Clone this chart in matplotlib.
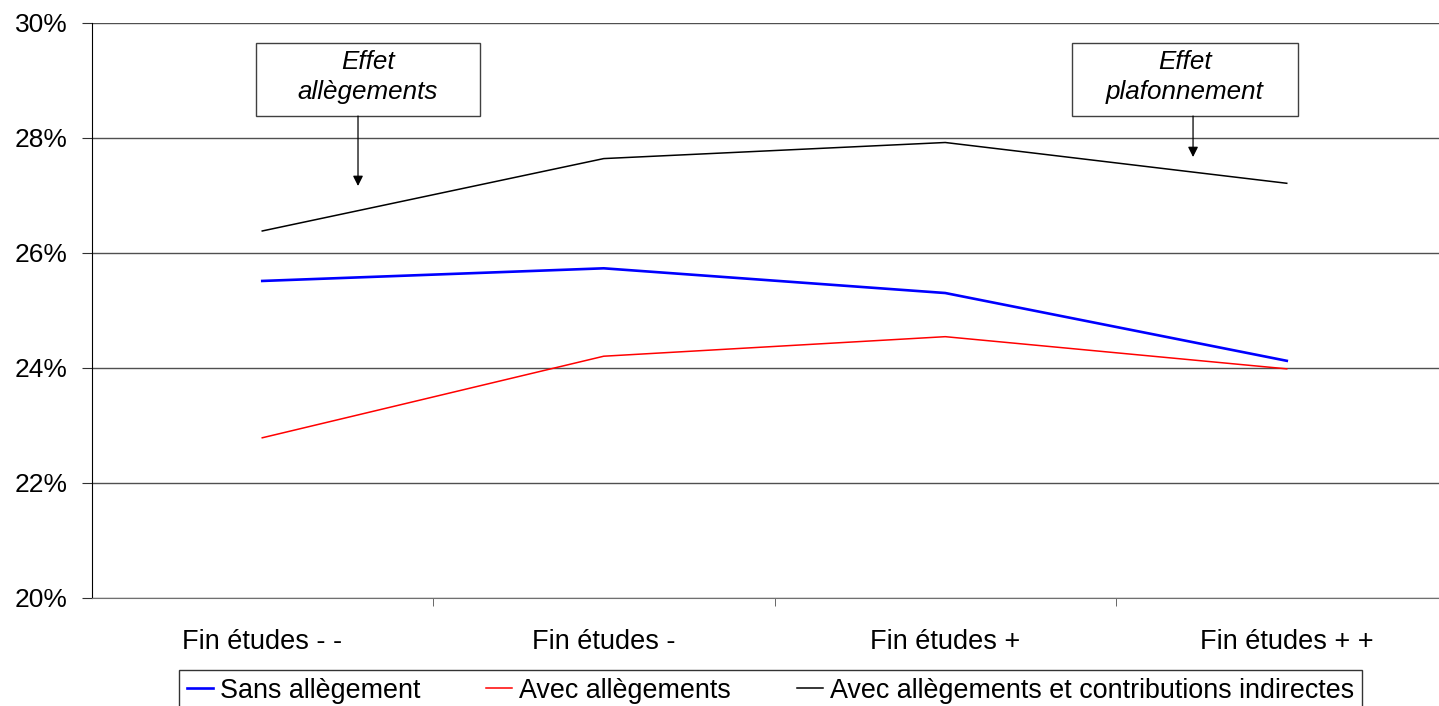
import matplotlib
matplotlib.use("Agg")
import matplotlib.pyplot as plt
from matplotlib.patches import Rectangle

plt.rcParams['font.family'] = ['Liberation Sans', 'DejaVu Sans']

categories = ["Fin études - -", "Fin études -", "Fin études +", "Fin études + +"]
sans_allegement = [25.51, 25.73, 25.30, 24.12]
avec_allegements = [22.78, 24.20, 24.54, 23.98]
avec_contributions = [26.38, 27.64, 27.92, 27.21]
y_ticks = [20, 22, 24, 26, 28, 30]
y_labels = ["20%", "22%", "24%", "26%", "28%", "30%"]

W, H = 1439, 706
fig = plt.figure(figsize=(W / 100, H / 100), dpi=100)
left, right, top, bottom = 91.5, 1457.5, 23, 597.5
ax = fig.add_axes([left / W, 1 - bottom / H, (right - left) / W, (bottom - top) / H])

x = range(len(categories))
ax.plot(x, sans_allegement, color="#0000ff", lw=1.9, label="Sans allègement")
ax.plot(x, avec_allegements, color="#ff0000", lw=1.1, label="Avec allègements")
ax.plot(x, avec_contributions, color="#000000", lw=1.1,
        label="Avec allègements et contributions indirectes")

ax.set_xlim(-0.5, len(categories) - 0.5)
ax.set_ylim(20, 30)
ax.set_yticks(y_ticks)
ax.set_yticklabels(y_labels, fontsize=19)
ax.yaxis.grid(True, color="#505050", lw=1.0)
ax.set_axisbelow(True)

ax.set_xticks(list(x))
ax.set_xticklabels(categories, fontsize=19.5)
ax.set_xticks([i + 0.5 for i in range(len(categories))], minor=True)
ax.tick_params(axis="x", which="major", length=0, pad=22.5)
ax.tick_params(axis="x", which="minor", length=6, direction="out", color="#505050")
ax.tick_params(axis="y", length=7.2, direction="out", pad=10, color="#303030")

for s in ("top", "right"):
    ax.spines[s].set_visible(False)
ax.spines["left"].set_color("#000000")
ax.spines["bottom"].set_color("#707070")


def note(x0, x1, y0, y1, xc, lines, x_arrow, y_arrow_end):
    """Framed italic caption with a downward arrow (axes-fraction coordinates)."""
    ax.add_patch(Rectangle((x0, y1), x1 - x0, y0 - y1, transform=ax.transAxes,
                           facecolor="white", edgecolor="#404040", lw=1.0, zorder=5))
    ax.text(xc, y0 - 0.033, lines[0], transform=ax.transAxes, ha="center", va="center",
            fontsize=18.7, style="italic", zorder=6)
    ax.text(xc, y0 - 0.085, lines[1], transform=ax.transAxes, ha="center", va="center",
            fontsize=18.7, style="italic", zorder=6)
    ax.annotate("", xy=(x_arrow, y_arrow_end), xytext=(x_arrow, y1),
                xycoords="axes fraction", textcoords="axes fraction",
                arrowprops=dict(arrowstyle="-|>,head_length=0.6,head_width=0.3",
                                color="black", lw=0.9, shrinkA=0, shrinkB=0), zorder=6)


note(0.1204, 0.2844, 0.9652, 0.8381, 0.2024, ["Effet", "allègements"], 0.1951, 0.7163)
note(0.7178, 0.8833, 0.9652, 0.8381, 0.8005, ["Effet", "plafonnement"], 0.8064, 0.7667)

leg = fig.legend(loc="upper left", bbox_to_anchor=(179 / W, 1 - 669.5 / H), ncol=3,
                 fontsize=19.4, frameon=True, fancybox=False, edgecolor="black",
                 handlelength=0.96, handletextpad=0.26, columnspacing=2.45,
                 borderpad=0.3, borderaxespad=0)
leg.get_frame().set_linewidth(1.0)

fig.savefig("out.png", dpi=100)
